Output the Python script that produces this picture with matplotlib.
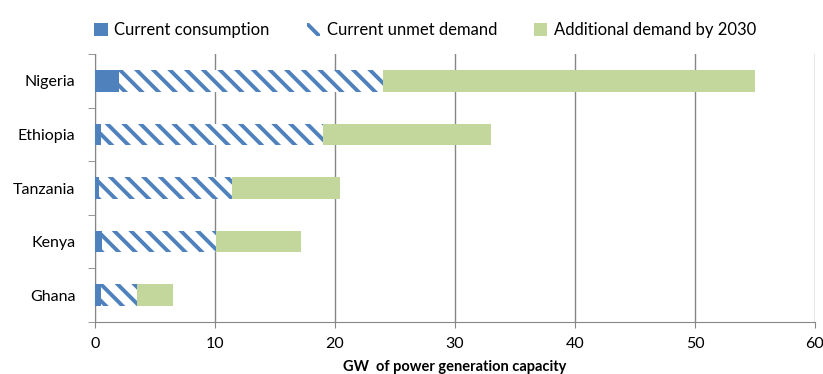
import matplotlib
matplotlib.use("Agg")
import matplotlib.pyplot as plt
import numpy as np

countries = ["Nigeria", "Ethiopia", "Tanzania", "Kenya", "Ghana"]
current_consumption = [2.0, 0.5, 0.3, 0.6, 0.5]
current_unmet = [22.0, 18.5, 11.1, 9.5, 3.0]
additional_2030 = [31.0, 14.0, 9.0, 7.1, 3.0]

blue = "#4F81BD"
green = "#C3D69B"
grid_col = "#868686"

plt.rcParams["font.family"] = ["Lato", "DejaVu Sans"]
plt.rcParams["hatch.linewidth"] = 2.8

fig = plt.figure(figsize=(8.23, 3.74), dpi=100)
ax = fig.add_axes([95 / 823, 1 - 322 / 374, 720 / 823, 268 / 374])

y = np.arange(len(countries))[::-1]
cons = np.array(current_consumption)
unmet = np.array(current_unmet)
add = np.array(additional_2030)

h = 0.4
ax.barh(y, cons, height=h, color=blue, linewidth=0, label="Current consumption", zorder=3)
ax.barh(y, unmet, left=cons, height=h, facecolor="white", edgecolor=blue,
        hatch="\\\\", linewidth=0, label="Current unmet demand", zorder=3)
ax.barh(y, add, left=cons + unmet, height=h, color=green, linewidth=0,
        label="Additional demand by 2030", zorder=3)

ax.set_xlim(0, 60)
ax.set_ylim(-0.5, len(countries) - 0.5)
ax.set_xticks(np.arange(0, 61, 10))
ax.set_yticks(y)
ax.set_yticklabels(countries)
ax.set_yticks(np.arange(-0.5, len(countries), 1), minor=True)
ax.tick_params(axis="y", which="major", length=0, pad=14, labelsize=11.5)
ax.tick_params(axis="y", which="minor", length=5, color=grid_col)
ax.tick_params(axis="x", length=4, color=grid_col, labelsize=11.5, pad=7)

ax.grid(axis="x", color=grid_col, linewidth=1, zorder=0)
for s in ["top", "right"]:
    ax.spines[s].set_visible(False)
for s in ["left", "bottom"]:
    ax.spines[s].set_color(grid_col)

ax.set_xlabel("GW  of power generation capacity", fontsize=10.5, fontweight="bold", labelpad=6)

ax.legend(loc="lower left", bbox_to_anchor=(-0.01, 1.035), ncol=3, frameon=False,
          fontsize=12, handlelength=0.8, handleheight=0.8, handletextpad=0.4,
          columnspacing=2.2, borderaxespad=0)

fig.savefig("out.png", dpi=100)
